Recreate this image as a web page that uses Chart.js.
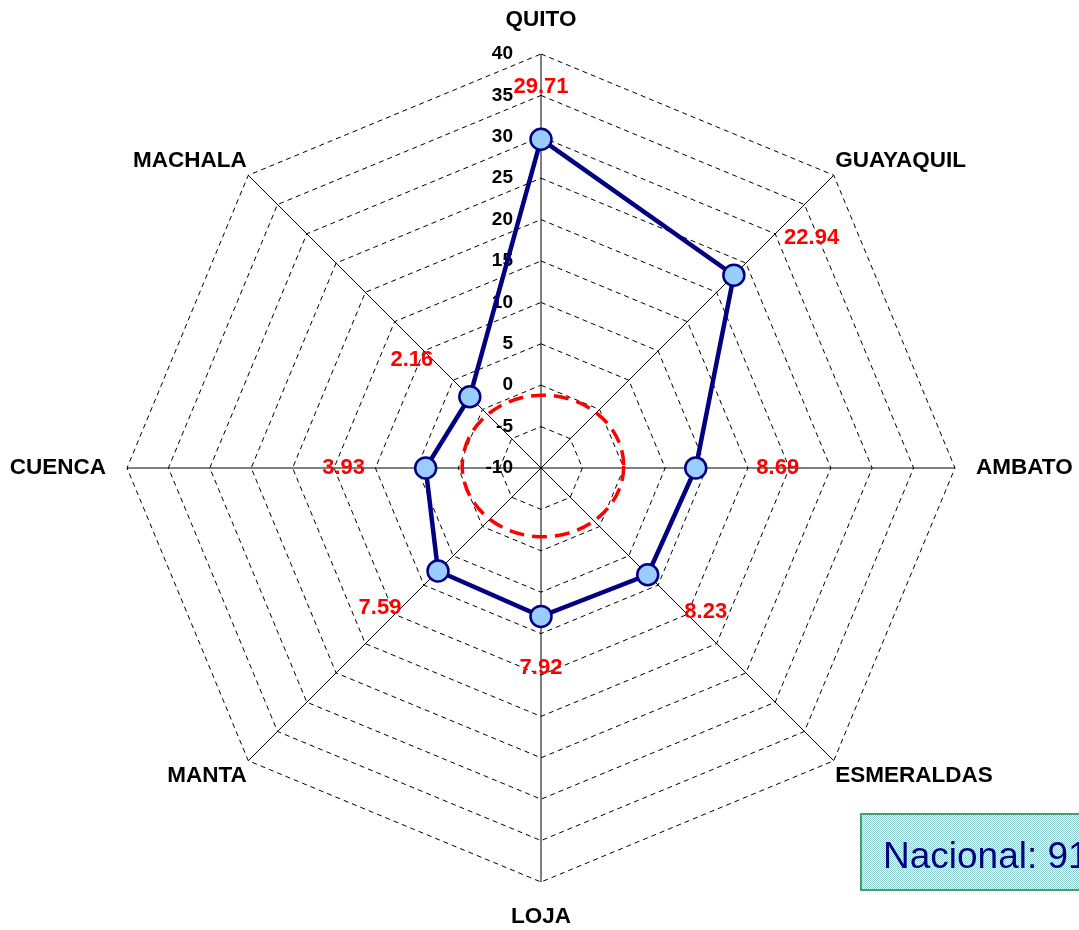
<!DOCTYPE html>
<html>
<head>
<meta charset="utf-8">
<script src="https://cdn.jsdelivr.net/npm/chart.js@4/dist/chart.umd.min.js"></script>
<style>
  body { margin: 0; background: #fff; overflow: hidden; }
</style>
</head>
<body>
<canvas id="radarChart" width="1079" height="930"></canvas>
<script>
  // ciudades y valores
  var ciudades = ["QUITO", "GUAYAQUIL", "AMBATO", "ESMERALDAS", "LOJA", "MANTA", "CUENCA", "MACHALA"];
  var valores = [29.71, 22.94, 8.69, 8.23, 7.92, 7.59, 3.93, 2.16];
  var etiquetas = ["29.71", "22.94", "8.69", "8.23", "7.92", "7.59", "3.93", "2.16"];
  var escalaMin = -10;
  var escalaMax = 40;
  var escalaPaso = 5;
  var anilloNacional = -0.8;
  var textoNacional = "Nacional: 91";

  var extras = {
    id: 'extras',
    beforeDraw: function (chart) {
      var c = chart.ctx;
      c.save();
      c.fillStyle = '#fff';
      c.fillRect(0, 0, chart.width, chart.height);
      c.restore();
    },
    beforeDatasetsDraw: function (chart) {
      var c = chart.ctx, r = chart.scales.r;
      var rad = r.getDistanceFromCenterForValue(anilloNacional);
      c.save();
      c.strokeStyle = '#ff0000';
      c.lineWidth = 3.5;
      c.setLineDash([15, 8]);
      c.beginPath();
      c.ellipse(r.xCenter + 2, r.yCenter - 2, rad * 1.06, rad * 0.93, 0, 0, Math.PI * 2);
      c.stroke();
      c.restore();

      // tick labels, left of the vertical axis
      c.save();
      c.font = 'bold 19px "Liberation Sans", Arial, sans-serif';
      c.fillStyle = '#000';
      c.textAlign = 'right';
      c.textBaseline = 'middle';
      r.ticks.forEach(function (t) {
        var d = r.getDistanceFromCenterForValue(t.value);
        c.fillText(String(t.value), r.xCenter - 28, r.yCenter - d);
      });
      c.restore();
    },
    afterDatasetsDraw: function (chart) {
      var c = chart.ctx;
      var meta = chart.getDatasetMeta(0);
      c.save();
      c.font = 'bold 22px "Liberation Sans", Arial, sans-serif';
      c.fillStyle = '#ff0000';
      c.textAlign = 'center';
      c.textBaseline = 'middle';
      meta.data.forEach(function (p, i) {
        var a = p.angle;
        var kx = (Math.cos(a) > 0.5 && Math.sin(a) < -0.5) ? 110 : 82;
        c.fillText(etiquetas[i], p.x + kx * Math.cos(a), p.y + 52 * Math.sin(a));
      });
      c.restore();

      // caja nacional
      c.save();
      var pat = document.createElement('canvas');
      pat.width = 2; pat.height = 2;
      var pc = pat.getContext('2d');
      pc.fillStyle = '#ffffff';
      pc.fillRect(0, 0, 2, 2);
      pc.fillStyle = '#8fcfcf';
      pc.fillRect(0, 0, 1, 1);
      pc.fillRect(1, 1, 1, 1);
      c.fillStyle = c.createPattern(pat, 'repeat');
      c.fillRect(861, 814, 240, 76);
      c.strokeStyle = '#3f9f6f';
      c.lineWidth = 2;
      c.strokeRect(861, 814, 240, 76);
      c.font = '37px "Liberation Sans", Arial, sans-serif';
      c.fillStyle = '#000080';
      c.textAlign = 'left';
      c.textBaseline = 'alphabetic';
      c.fillText(textoNacional, 883, 868);
      c.restore();
    }
  };

  var ctx = document.getElementById("radarChart").getContext('2d');
  var myChart = new Chart(ctx, {
    type: 'radar',
    data: {
      labels: ciudades,
      datasets: [{
        label: 'ciudades',
        data: valores,
        borderColor: '#000080',
        borderWidth: 4.5,
        fill: false,
        pointRadius: 10.5,
        pointBorderWidth: 2.5,
        pointBackgroundColor: '#99ccff',
        pointBorderColor: '#000080',
        tension: 0
      }]
    },
    options: {
      responsive: false,
      animation: false,
      layout: { padding: { left: 5, top: 6, right: 0, bottom: 0 } },
      plugins: { legend: { display: false }, tooltip: { enabled: false } },
      scales: {
        r: {
          min: escalaMin,
          max: escalaMax,
          ticks: { stepSize: escalaPaso, display: false },
          grid: { color: '#000', lineWidth: 1, circular: false },
          border: { dash: [5, 4] },
          angleLines: { color: '#000', lineWidth: 1 },
          pointLabels: {
            color: '#000',
            font: { family: '"Liberation Sans", Arial, sans-serif', size: 22.5, weight: 'bold' },
            padding: function (ctx) { return ctx.index % 2 === 0 ? 21 : 2; }
          }
        }
      }
    },
    plugins: [extras]
  });
</script>
</body>
</html>
